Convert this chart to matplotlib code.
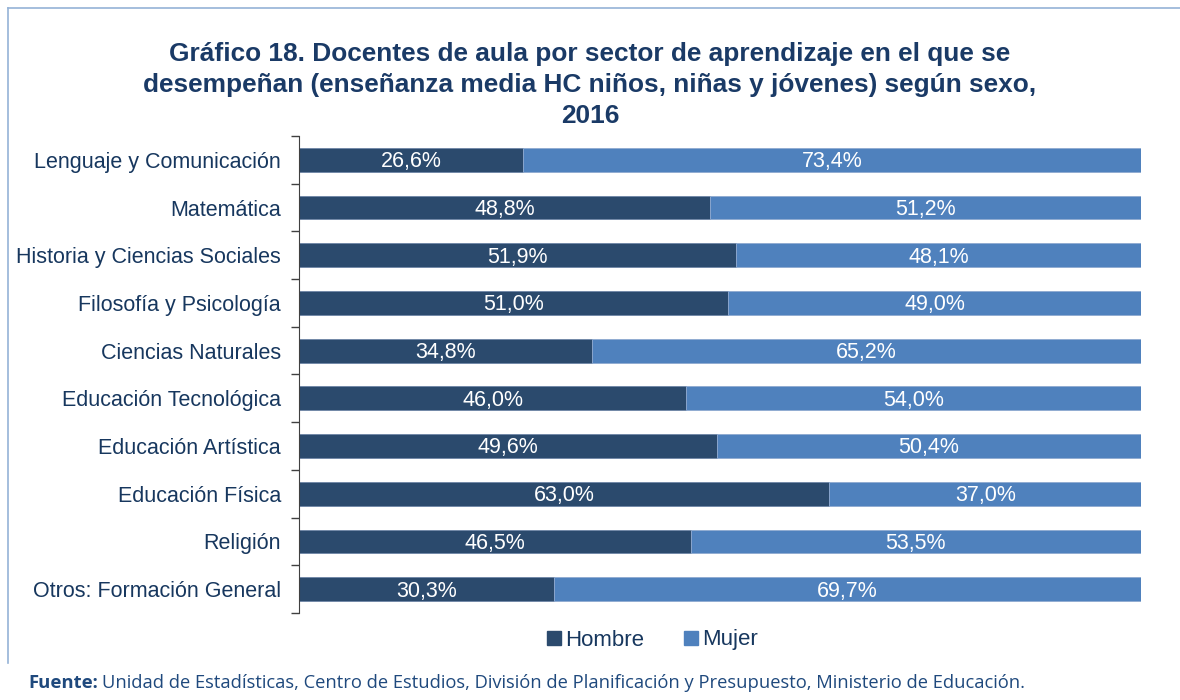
import matplotlib.pyplot as plt
from matplotlib.lines import Line2D
import numpy as np

sectores = ["Lenguaje y Comunicación", "Matemática", "Historia y Ciencias Sociales",
            "Filosofía y Psicología", "Ciencias Naturales", "Educación Tecnológica",
            "Educación Artística", "Educación Física", "Religión",
            "Otros: Formación General"]
hombre = [26.6, 48.8, 51.9, 51.0, 34.8, 46.0, 49.6, 63.0, 46.5, 30.3]
mujer = [73.4, 51.2, 48.1, 49.0, 65.2, 54.0, 50.4, 37.0, 53.5, 69.7]

c_hombre = "#2B4A6D"
c_mujer = "#4F81BD"
azul_texto = "#17375E"

plt.rcParams['font.family'] = ['Liberation Sans', 'DejaVu Sans']

fig = plt.figure(figsize=(11.8, 7), dpi=100)
ax = fig.add_axes([299 / 1180, 1 - 613 / 700, (1141 - 299) / 1180, (613 - 136) / 700])

y = np.arange(len(sectores))
ax.barh(y, hombre, height=0.5, color=c_hombre, edgecolor="#6E86A6", linewidth=0.6, label="Hombre")
ax.barh(y, mujer, left=hombre, height=0.5, color=c_mujer, edgecolor="#8FAAD0", linewidth=0.6, label="Mujer")

for i in range(len(sectores)):
    ax.text(hombre[i] / 2, y[i] + 0.04, f"{hombre[i]:.1f}%".replace(".", ","),
            color="white", fontsize=15.5, ha="center", va="center")
    ax.text(hombre[i] + mujer[i] / 2, y[i] + 0.04, f"{mujer[i]:.1f}%".replace(".", ","),
            color="white", fontsize=15.5, ha="center", va="center")

ax.set_xlim(0, 100)
ax.set_ylim(len(sectores) - 0.5, -0.5)
ax.set_yticks(y)
ax.set_yticklabels(sectores, fontsize=15.5, color=azul_texto)
ax.set_yticks(np.arange(len(sectores) + 1) - 0.5, minor=True)
ax.tick_params(axis="y", which="major", length=0, pad=13)
ax.tick_params(axis="y", which="minor", length=6, color="#404040", width=1)
ax.set_xticks([])
for s in ["top", "right", "bottom"]:
    ax.spines[s].set_visible(False)
ax.spines["left"].set_color("#404040")

fig.text(0.5, 1 - 85 / 700,
         "Gráfico 18. Docentes de aula por sector de aprendizaje en el que se\n"
         "desempeñan (enseñanza media HC niños, niñas y jóvenes) según sexo,\n2016",
         ha="center", va="center", fontsize=18.9, fontweight="bold", color="#1A3A66",
         linespacing=1.38)

handles = [Line2D([], [], marker="s", linestyle="", markersize=9.5, color=c_hombre),
           Line2D([], [], marker="s", linestyle="", markersize=9.5, color=c_mujer)]
fig.legend(handles, ["Hombre", "Mujer"], loc="center", bbox_to_anchor=(650 / 1180, 1 - 640 / 700),
           ncol=2, frameon=False, fontsize=16, handletextpad=0.0, columnspacing=1.6,
           labelcolor=azul_texto, handlelength=1.0)

fig.text(28 / 1180, 1 - 683 / 700, "Fuente:", fontsize=13.3, fontweight="bold",
         color="#1F497D", family=["Open Sans", "DejaVu Sans"], va="center")
fig.text(102 / 1180, 1 - 683 / 700,
         "Unidad de Estadísticas, Centro de Estudios, División de Planificación y Presupuesto, Ministerio de Educación.",
         fontsize=13.2, color="#1F497D", family=["Open Sans", "DejaVu Sans"], va="center")

# borde del recuadro
fig.add_artist(Line2D([8 / 1180, 1], [1 - 8 / 700, 1 - 8 / 700], color="#95B3D7", lw=1.2))
fig.add_artist(Line2D([8 / 1180, 8 / 1180], [1 - 8 / 700, 1 - 663 / 700], color="#95B3D7", lw=1.2))

fig.savefig("out.png", dpi=100)
